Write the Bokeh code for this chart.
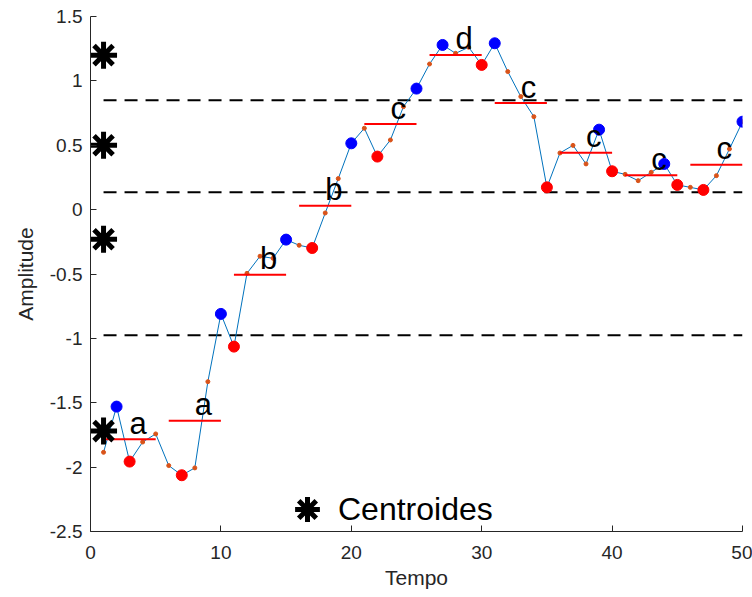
from bokeh.plotting import figure
from bokeh.models import FixedTicker, Legend, LegendItem
from bokeh.core.properties import value
from bokeh.embed import file_html
from bokeh.resources import INLINE
import numpy as np

# Time series (one sample per time step)
tempo = list(range(1, 51))
amplitude = [
    -1.885, -1.530, -1.957, -1.805, -1.742,
    -1.988, -2.063, -2.006, -1.336, -0.810,
    -1.064, -0.495, -0.362, -0.378, -0.233,
    -0.277, -0.298, -0.026, 0.241, 0.515,
    0.632, 0.412, 0.541, 0.800, 0.940,
    1.131, 1.279, 1.214, 1.261, 1.124,
    1.292, 1.072, 0.878, 0.722, 0.173,
    0.440, 0.499, 0.355, 0.621, 0.298,
    0.274, 0.225, 0.290, 0.355, 0.192,
    0.173, 0.153, 0.264, 0.471, 0.683,
]
segment_size = 5
symbols = ["a", "a", "b", "b", "c", "d", "c", "c", "c", "c"]
centroids = [-1.72, -0.23, 0.50, 1.20]
x_ticks = [0, 10, 20, 30, 40, 50]
y_ticks = [-2.5, -2.0, -1.5, -1.0, -0.5, 0.0, 0.5, 1.0, 1.5]
y_tick_labels = ["-2.5", "-2", "-1.5", "-1", "-0.5", "0", "0.5", "1", "1.5"]

FONT = "Liberation Sans"
AX_COLOR = "#262626"

t = np.array(tempo)
a = np.array(amplitude)
n_seg = len(a) // segment_size
seg_t = t.reshape(n_seg, segment_size)
seg_a = a.reshape(n_seg, segment_size)
seg_mean = seg_a.mean(axis=1)
rows = np.arange(n_seg)
imax = seg_a.argmax(axis=1)
imin = seg_a.argmin(axis=1)

# decision thresholds halfway between consecutive centroids
c = np.array(centroids)
thresholds = (c[:-1] + c[1:]) / 2

p = figure(width=752, height=597, x_range=(0, 50), y_range=(-2.5, 1.5),
           output_backend="svg", toolbar_location=None,
           min_border_left=90, min_border_right=10,
           min_border_top=16, min_border_bottom=66,
           x_axis_label="Tempo", y_axis_label="Amplitude")
p.grid.visible = False
p.outline_line_color = None
p.background_fill_color = "white"
p.border_fill_color = "white"

for ax in (p.xaxis[0], p.yaxis[0]):
    ax.axis_line_color = AX_COLOR
    ax.major_tick_line_color = AX_COLOR
    ax.major_tick_in = 6
    ax.major_tick_out = 0
    ax.minor_tick_line_color = None
    ax.major_label_text_font = FONT
    ax.major_label_text_font_size = "19px"
    ax.major_label_text_color = AX_COLOR
    ax.axis_label_text_font = FONT
    ax.axis_label_text_font_size = "21px"
    ax.axis_label_text_font_style = "normal"
    ax.axis_label_text_color = AX_COLOR

p.xaxis.ticker = FixedTicker(ticks=x_ticks)
p.yaxis.ticker = FixedTicker(ticks=y_ticks)
p.yaxis.major_label_overrides = dict(zip(y_ticks, y_tick_labels))
p.xaxis.major_label_standoff = 14
p.yaxis.major_label_standoff = 8
p.xaxis.axis_label_standoff = 4
p.yaxis.axis_label_standoff = 10

# thresholds
p.segment(x0=[tempo[0]] * len(thresholds), x1=[tempo[-1]] * len(thresholds),
          y0=thresholds, y1=thresholds,
          line_color="black", line_width=2, line_dash="13 8")

# series
p.line(tempo, amplitude, line_color="#0072BD", line_width=1)
p.scatter(tempo, amplitude, size=4, fill_color="#D95319", line_color="#D95319")

# segment maxima / minima
p.scatter(seg_t[rows, imax], seg_a[rows, imax], size=11,
          fill_color="blue", line_color="blue")
p.scatter(seg_t[rows, imin], seg_a[rows, imin], size=11,
          fill_color="red", line_color="red")

# segment means and their symbols
p.segment(x0=seg_t[:, 0], x1=seg_t[:, -1], y0=seg_mean, y1=seg_mean,
          line_color="red", line_width=2)
p.text(x=seg_t[:, 2], y=seg_mean, text=symbols,
       text_font=value(FONT), text_font_size="31px", text_color="black",
       text_align="left", text_baseline="alphabetic", y_offset=-16)

# centroids
stars = p.scatter(x=[tempo[0]] * len(centroids), y=centroids, marker="asterisk",
                  size=27, line_color="black", line_width=5)

legend = Legend(items=[LegendItem(label="Centroides", renderers=[stars])],
                location=(186, -11), glyph_width=62, glyph_height=66,
                label_standoff=0, label_text_font=FONT,
                label_text_font_size="32px", label_text_color="black",
                border_line_color=None, background_fill_alpha=0,
                padding=0, margin=0, spacing=0)
p.add_layout(legend, "center")

open("out.html", "w").write(file_html(p, INLINE))
